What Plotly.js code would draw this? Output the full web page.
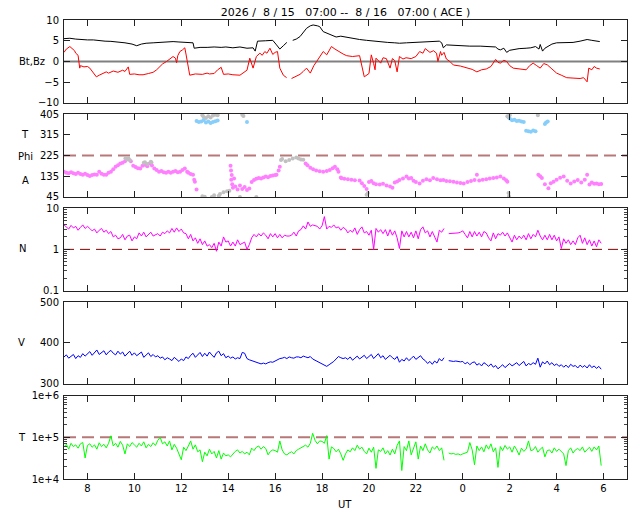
<!DOCTYPE html>
<html>
<head>
<meta charset="utf-8">
<script src="https://cdn.plot.ly/plotly-3.0.1.min.js"></script>
<style>
  body { margin: 0; background: white; }
  #chart { width: 640px; height: 512px; }
</style>
</head>
<body>
<div id="chart"></div>
<script>
// ACE solar wind, 2026/08/15 07:00 -- 08/16 07:00, hours counted from 0 UT on 8/15

const tickHours = [8, 10, 12, 14, 16, 18, 20, 22, 24, 26, 28, 30];
const tickText = ['8', '10', '12', '14', '16', '18', '20', '22', '0', '2', '4', '6'];

// Bt (black)
const btHr = [7.0, 7.25, 7.5, 7.7, 8.0, 8.25, 8.5, 8.75, 9.0, 9.3, 9.6, 9.9, 10.1, 10.3, 10.5, 10.8,
  11.1, 11.4, 11.65, 11.9, 12.2, 12.5, 12.55, 12.8, 13.1, 13.4, 13.7, 13.9, 14.2, 14.5, 14.8, 15.06,
  15.15, 15.25, 15.6, 15.9, 16.06, 16.2, 16.35, 16.5, 16.6, 16.75, 16.9, 17.06, 17.2, 17.34, 17.5,
  17.62, 17.8, 17.9, 18.05, 18.2, 18.33, 18.6, 18.8, 19.05, 19.3, 19.6, 19.9, 20.2, 20.46, 20.8,
  21.1, 21.3, 21.6, 21.9, 22.16, 22.5, 22.8, 23.0, 23.1, 23.17, 23.3, 23.6, 23.9, 24.3, 24.74, 25.1,
  25.4, 25.5, 25.6, 25.75, 25.87, 26.0, 26.15, 26.4, 26.7, 26.9, 27.1, 27.25, 27.3, 27.4, 27.5,
  27.65, 27.8, 28.0, 28.3, 28.7, 29.0, 29.3, 29.5, 29.84];
const btVal = [5.5, 5.6, 5.4, 5.25, 5.2, 5.2, 5.0, 4.9, 4.85, 4.7, 4.5, 4.2, 3.8, 4.2, 4.4, 4.5,
  4.6, 4.7, 4.8, 4.7, 4.6, 4.5, 3.2, 3.4, 3.4, 3.5, 3.4, 3.5, 3.3, 3.5, 3.2, 3.3,
  2.5, 4.9, 5.0, 5.1, 4.0, 3.0, 3.8, 4.6, null, 5.1, 5.4, 6.0, 7.0, 8.0, 8.6,
  8.8, 8.6, 8.4, 7.2, 6.8, 6.5, 5.9, 6.1, 5.8, 5.5, 5.3, 5.1, 4.9, 4.8, 4.6,
  4.5, 4.4, 4.5, 4.6, 4.6, 4.7, 4.8, 4.9, 4.5, 3.3, 4.0, 3.9, 3.7, 3.7, 3.7, 3.6,
  3.5, 3.0, 2.8, 3.2, 2.2, 2.7, 2.9, 3.1, 3.2, 3.3, 3.6, 3.0, 4.1, 2.5, 3.2,
  3.6, 4.2, 4.5, 4.6, 4.6, 4.9, 5.3, 5.1, 4.8];

// Bz (red)
const bzHr = [7.0, 7.1, 7.25, 7.38, 7.45, 7.5, 7.6, 7.67, 7.7, 7.85, 8.0, 8.1, 8.25, 8.38, 8.5, 8.67,
  8.8, 8.9, 9.1, 9.3, 9.5, 9.6, 9.74, 9.8, 10.0, 10.2, 10.37, 10.6, 10.8, 10.95, 11.08, 11.2, 11.37,
  11.5, 11.65, 11.75, 11.8, 11.85, 11.94, 12.05, 12.15, 12.2, 12.28, 12.36, 12.6, 12.9, 13.1, 13.2,
  13.4, 13.55, 13.7, 13.8, 14.0, 14.2, 14.5, 14.65, 14.8, 14.92, 15.0, 15.06, 15.2, 15.35, 15.45,
  15.56, 15.65, 15.78, 15.9, 16.0, 16.1, 16.15, 16.2, 16.35, 16.49, 16.6, 16.7, 16.85, 17.06, 17.2,
  17.34, 17.5, 17.65, 17.77, 17.9, 18.05, 18.2, 18.3, 18.4, 18.55, 18.76, 18.9, 19.05, 19.3, 19.6,
  19.7, 19.8, 20.0, 20.1, 20.2, 20.26, 20.3, 20.5, 20.6, 20.74, 20.9, 21.0, 21.1, 21.2, 21.3, 21.45,
  21.58, 21.8, 22.0, 22.16, 22.3, 22.4, 22.6, 22.75, 22.88, 22.94, 23.05, 23.1, 23.2, 23.3, 23.45,
  23.6, 23.9, 24.2, 24.4, 24.6, 24.8, 25.0, 25.2, 25.4, 25.5, 25.6, 25.75, 25.87, 26.0, 26.15, 26.4,
  26.7, 26.85, 27.0, 27.15, 27.3, 27.45, 27.6, 27.8, 28.0, 28.2, 28.43, 28.7, 29.0, 29.15, 29.3,
  29.37, 29.5, 29.6, 29.7, 29.84];
const bzVal = [2.2, 3.0, 3.6, 3.0, 2.6, 2.0, 1.5, -1.6, -1.0, -1.3, -1.2, -1.6, -2.6, -3.7, -3.3, -2.9,
  -2.5, -2.8, -2.3, -2.6, -2.1, -2.4, -1.3, -3.1, -3.0, -3.2, -3.2, -2.9, -2.6, -2.0, -1.25, -0.6, 0,
  0.6, 1.2, 0.8, -0.3, 1.4, 2.4, 2.8, 3.3, 1.8, -1.0, -3.3, -3.0, -3.1, -2.8, -3.0,
  -2.9, -2.0, -1.4, -3.1, -3.0, -3.2, -3.3, -2.8, -2.1, 0.8, -0.5, -1.6, 1.2, 2.0, 1.5,
  2.4, 2.0, 3.2, 1.7, 2.2, 2.4, 0.5, -1.6, -3.3, -3.9, null, -4.1, -3.6, -3.1, -2.4,
  -1.6, -2.8, -1.0, 0, 1.0, 2.4, 1.6, 2.8, 3.6, 3.0, 2.2, 1.8, 1.4, 1.2, 1.4,
  -0.8, -3.7, -2.9, 1.6, -0.5, -2.0, 0.8, -0.4, 0.9, 0.7, -1.6, 0.7, 0.2, -2.5, 1.2, 0.6,
  0.9, 0.7, 1.2, 2.4, 2.0, 3.1, 2.2, 2.6, 2.0, 0, 2.4, 1.5, 2.2, 0.6, 0.0,
  -0.85, -1.1, -1.5, -1.9, -2.5, -2.0, -1.8, -1.2, 0.5, -0.2, -0.4, 0.3, 0, -1.0, -1.6, -1.8,
  -2.0, -1.0, -0.4, -1.0, -1.6, -0.5, -0.8, -1.8, -2.8, -3.3, -3.9, -4.0, -4.1, -3.9, -4.9,
  -1.6, -2.0, -1.2, -1.6, -1.8];

// Phi angle, pink points
const phiHr = [7.0, 7.1, 7.2, 7.3, 7.4, 7.5, 7.6, 7.7, 7.8, 7.9, 8.0, 8.1, 8.2, 8.3, 8.4, 8.5, 8.6, 8.7,
  8.8, 8.9, 9.0, 9.1, 9.2, 9.3, 9.4, 9.5, 9.6, 9.85, 9.95, 10.05, 10.15, 10.25, 10.35, 10.45, 10.55,
  10.65, 10.75, 10.85, 10.95, 11.05, 11.15, 11.25, 11.35, 11.45, 11.55, 11.65, 11.75, 11.85, 11.95,
  12.05, 12.15, 12.25, 12.3, 12.4, 12.5, 12.55, 12.58, 12.65, 14.1, 14.12, 14.15, 14.13, 14.17, 14.2,
  14.25, 14.3, 14.4, 14.5, 14.6, 14.7, 14.8, 14.9, 15.0, 15.1, 15.2, 15.3, 15.4, 15.5, 15.6, 15.7,
  15.8, 15.9, 16.0, 16.06, 16.15, 16.2, 17.3, 17.38, 17.5, 17.62, 17.75, 17.9, 18.05, 18.2, 18.33,
  18.45, 18.55, 18.65, 18.7, 18.8, 18.83, 18.95, 19.1, 19.25, 19.4, 19.6, 19.7, 19.8, 19.9, 20.0,
  20.1, 20.2, 20.3, 20.46, 20.6, 20.75, 20.9, 21.0, 21.1, 21.2, 21.3, 21.45, 21.6, 21.7, 21.8, 21.9,
  22.0, 22.16, 22.3, 22.45, 22.6, 22.74, 22.9, 23.05, 23.17, 23.3, 23.45, 23.6, 23.75, 23.9, 24.04,
  24.2, 24.35, 24.5, 24.6, 24.7, 24.85, 25.0, 25.15, 25.3, 25.45, 25.6, 25.75, 25.85, 25.9, 27.22,
  27.3, 27.37, 27.5, 27.65, 27.75, 27.87, 28.0, 28.15, 28.3, 28.45, 28.6, 28.75, 28.9, 29.05, 29.2,
  29.3, 29.4, 29.5, 29.6, 29.7, 29.8, 29.9];
const phiVal = [155, 150, 148, 152, 148, 145, 150, 145, 142, 146, 140, 136, 140, 143, 141, 155, 146, 141,
  141, 150, 155, 165, 176, 183, 190, 194, 200, 200, 180, 175, 170, 169, 180, 185, 178,
  190, 182, 169, 162, 155, 158, 152, 150, 154, 150, 155, 158, 152, 155,
  162, 169, 155, 150, 145, 141, 120, 111, 78, 180, 160, 140, 120, 100, 85,
  125, 90, 78, 95, 80, 88, 75, 82, 110, 119, 124, 127, 125, 130, 134, 131,
  136, 138, 140, 141, 160, 176, 190, 183, 172, 165, 160, 157, 155, 158, 162,
  170, 176, 165, 155, 130, 126, 124, 122, 120, 118, 116, 105, 93, 80, 110,
  114, 105, 100, 99, 102, 95, 90, 85, 108, 112, 119, 125, 134, 125, 127, 115,
  110, 104, 115, 122, 118, 127, 122, 118, 119, 114, 113, 111, 108, 106, 104,
  110, 114, 119, 141, 116, 120, 122, 125, 127, 130, 134, 125, 118, 111, 141,
  135, 127, 100, 83, 105, 111, 120, 128, 134, 115, 104, 112, 119, 108, 120,
  141, 99, 108, 102, 104, 100, 101];

// Phi angle, gray points
const phiGrayHr = [9.62, 9.7, 9.75, 9.8, 10.4, 10.45, 10.55, 10.7, 10.73, 12.9, 12.95, 13.05, 13.15,
  13.25, 13.35, 13.45, 13.55, 14.6, 14.65, 12.9, 13.0, 13.3, 13.4, 13.6, 13.65, 13.8, 13.95, 14.05,
  14.5, 15.2, 16.25, 16.3, 16.45, 16.6, 16.75, 16.9, 17.0, 17.1, 17.2, 19.95, 19.9, 25.9, 25.95,
  26.0, 25.95, 25.97, 27.2];
const phiGrayVal = [213, 208, 212, 205, 194, 196, 188, 198, 195, 400, 392, 388, 395,
  390, 398, 402, 400, 402, 396, 48, 46, 45, 52, 50, 58, 66, 70, 72,
  45, 45, 205, 210, 200, 205, 212, 216, 212, 208, 206, 62, 55, 395, 390,
  400, 62, 48, 400];

// Phi angle, light blue points
const phiBlueHr = [12.65, 12.75, 12.85, 12.95, 13.05, 13.15, 13.25, 13.35, 13.45, 13.55, 14.8,
  26.0, 26.1, 26.2, 26.3, 26.4, 26.5, 26.6, 26.7, 26.8, 26.9, 27.0, 27.1, 27.5, 27.55, 27.62];
const phiBlueVal = [375, 370, 372, 378, 368, 372, 366, 370, 374, 377, 370,
  385, 378, 380, 375, 376, 372, 370, 332, 330, 328, 333, 330, 362, 368, 372];

// N, V, T sampled every 0.1 h from 7.0 to 29.9 (one row = one hour)
const density = [
  3.9, 3.4, 3.1, 3.8, 3.3, 3.6, 2.9, 3.4, 3.9, 3.2,
  3.6, 3.2, 2.8, 3.1, 2.5, 2.9, 3.2, 2.6, 2.9, 2.4,
  2.7, 2.0, 2.2, 1.8, 1.9, 2.3, 1.7, 2.1, 2.2, 1.6,
  2.0, 1.8, 2.5, 2.1, 2.6, 2.0, 2.3, 2.6, 2.1, 2.3,
  2.4, 2.1, 2.6, 2.4, 2.8, 2.5, 3.2, 2.6, 3.3, 2.7,
  3.1, 2.5, 2.4, 1.8, 2.3, 1.6, 1.9, 1.4, 1.8, 1.3,
  1.6, 1.2, 1.3, 1.1, 1.4, 0.9, 1.5, 1.2, 2.0, 1.5,
  1.6, 1.2, 1.5, 1.2, 1.7, 1.3, 1.4, 1.5, 1.0, 1.3,
  1.9, 2.3, 2.0, 2.4, 2.1, 2.5, 2.2, 1.8, 2.4, 2.0,
  2.4, 1.9, 2.3, 1.9, 2.2, 2.1, 2.1, 2.2, 2.6, 2.1,
  2.8, 3.0, 3.7, 3.1, 4.6, 3.6, 3.9, 3.7, 3.6, 3.1,
  3.7, 6.2, 3.1, 3.6, 3.4, 3.9, 3.3, 3.5, 2.9, 3.4,
  3.1, 2.5, 2.9, 2.6, 3.3, 2.3, 3.0, 3.5, 2.5, 2.7,
  2.2, 2.9, 1.0, 3.2, 2.6, 3.0, 2.4, 3.0, 2.1, 3.0,
  2.2, 2.8, 1.9, 1.05, 2.8, 2.0, 2.7, 2.0, 2.6, 1.9,
  2.8, 1.8, 3.0, 3.5, 2.5, 2.8, 2.0, 2.7, 2.1, 1.5,
  2.9, 2.6, 3.2, null, 2.4, 2.4, 2.5, 2.4, 2.5, 2.6,
  2.8, 2.3, 1.9, 2.7, 2.0, 2.7, 2.1, 2.6, 2.0, 2.7,
  2.5, 1.9, 1.6, 2.5, 1.8, 2.4, 2.2, 2.6, 2.1, 2.5,
  2.0, 1.5, 2.2, 1.7, 2.1, 1.8, 2.2, 1.7, 2.4, 1.8,
  2.3, 2.0, 2.9, 2.1, 1.7, 2.2, 1.7, 2.3, 1.7, 2.2,
  1.6, 2.0, 1.05, 1.8, 1.4, 1.7, 1.3, 1.6, 1.3, 1.9,
  2.2, 1.4, 1.9, 1.3, 1.7, 1.2, 1.6, 1.15, 1.7, 1.4];

const speed = [
  366, 371, 363, 368, 372, 362, 369, 365, 374, 368,
  373, 379, 370, 376, 383, 372, 377, 381, 371, 378,
  382, 375, 371, 380, 373, 378, 368, 375, 380, 370,
  376, 369, 373, 378, 365, 371, 376, 367, 372, 366,
  369, 363, 366, 359, 364, 361, 357, 365, 359, 355,
  361, 357, 366, 362, 370, 375, 365, 372, 377, 367,
  375, 368, 378, 371, 365, 376, 380, 369, 374, 364,
  368, 363, 366, 361, 364, 362, 377, 375, 362, 359,
  357, 354, 352, 350, 349, 351, 349, 352, 354, 353,
  356, 361, 362, 363, 365, 362, 366, 364, 363, 366,
  366, 364, 368, 366, 364, 367, 361, 358, 355, 352,
  348, 345, 343, 347, 350, 355, 361, 367, 364, 362,
  364, 360, 366, 358, 363, 368, 361, 366, 370, 362,
  367, 372, 362, 368, 374, 364, 369, 360, 366, 370,
  364, 360, 367, 353, 360, 356, 364, 357, 362, 368,
  360, 365, 369, 361, 357, 350, 355, 348, 356, 351,
  362, 356, 364, null, 357, 356, 355, 356, 355, 354,
  355, 349, 353, 347, 352, 354, 346, 350, 344, 352,
  348, 343, 349, 341, 345, 337, 342, 347, 340, 346,
  350, 344, 347, 352, 345, 349, 355, 344, 350, 347,
  352, 348, 363, 341, 354, 349, 356, 347, 352, 345,
  349, 343, 347, 341, 346, 340, 348, 343, 345, 339,
  346, 341, 345, 339, 347, 340, 344, 338, 343, 336];

const temperature = [
  59000, 68000, 52000, 72000, 60000, 66000, 55000, 70000, 75000, 32000,
  64000, 70000, 58000, 66000, 52000, 74000, 60000, 68000, 56000, 72000,
  109000, 62000, 72000, 58000, 80000, 65000, 40000, 70000, 60000, 75000,
  66000, 58000, 72000, 62000, 78000, 56000, 68000, 60000, 74000, 64000,
  85000, 100000, 70000, 78000, 62000, 82000, 50000, 68000, 55000, 40000,
  29000, 58000, 48000, 62000, 82000, 52000, 66000, 45000, 50000, 26000,
  44000, 36000, 52000, 40000, 46000, 32000, 48000, 30000, 42000, 36000,
  38000, 34000, 40000, 46000, 50000, 42000, 46000, 40000, 44000, 38000,
  55000, 48000, 58000, 62000, 52000, 60000, 54000, 38000, 46000, 50000,
  48000, 44000, 82000, 50000, 40000, 38000, 42000, 45000, 40000, 48000,
  52000, 56000, 60000, 65000, 58000, 72000, 125000, 85000, 70000, 82000,
  80000, 72000, 110000, 30000, 59000, 54000, 45000, 52000, 40000, 28000,
  40000, 50000, 45000, 56000, 48000, 65000, 52000, 58000, 46000, 40000,
  55000, 44000, 58000, 18000, 50000, 46000, 56000, 40000, 48000, 37600,
  52000, 40000, 64000, 82000, 16000, 60000, 48000, 82000, 38000, 56000,
  78000, 30000, 62000, 48000, 70000, 50000, 42000, 59000, 52000, 62000,
  48000, 56000, 28000, null, 42000, 40000, 41000, 39000, 40000, 38000,
  40000, 42000, 44000, 75000, 50000, 22000, 62000, 48000, 59000, 45000,
  66000, 52000, 70000, 45000, 56000, 19000, 60000, 48000, 64000, 52000,
  59000, 44000, 62000, 50000, 37600, 55000, 46000, 52000, 82000, 48000,
  50000, 60000, 44000, 52000, 58000, 34000, 48000, 50000, 42000, 56000,
  46000, 52000, 45000, 40000, 21000, 48000, 56000, 42000, 50000, 54000,
  48000, 59000, 44000, 52000, 58000, 46000, 59000, 50000, 62000, 21000];

const gridHr = [];
for (let i = 0; i < density.length; i++) {
  gridHr.push(Math.round((7 + i * 0.1) * 10) / 10);
}

const minorLog = [];
[-1, 0, 4, 5].forEach(p => {
  for (let k = 2; k <= 9; k++) minorLog.push(k * Math.pow(10, p));
});

const fnt = {family: 'DejaVu Sans, sans-serif', size: 10, color: 'black'};

function xax(anchor, labels) {
  return {
    range: [7, 31],
    anchor: anchor,
    matches: anchor === 'y' ? undefined : 'x',
    tickmode: 'array',
    tickvals: tickHours,
    ticktext: tickText,
    showticklabels: labels,
    ticks: 'inside',
    ticklen: 6,
    tickcolor: '#222',
    mirror: 'ticks',
    showline: true,
    linecolor: '#222',
    linewidth: 1,
    showgrid: false,
    zeroline: false,
    tickfont: fnt
  };
}

function yax(dom, anchor, extra) {
  return Object.assign({
    domain: dom,
    anchor: anchor,
    ticks: 'inside',
    ticklen: 6,
    tickcolor: '#222',
    mirror: 'ticks',
    showline: true,
    linecolor: '#222',
    linewidth: 1,
    showgrid: false,
    zeroline: false,
    tickfont: fnt,
    ticklabelstandoff: 2,
    fixedrange: true
  }, extra);
}

const data = [
  {x: btHr, y: btVal, type: 'scatter', mode: 'lines', line: {color: 'black', width: 1}, xaxis: 'x5', yaxis: 'y5'},
  {x: bzHr, y: bzVal, type: 'scatter', mode: 'lines', line: {color: '#ff0000', width: 1}, xaxis: 'x5', yaxis: 'y5'},
  {x: phiHr, y: phiVal, type: 'scatter', mode: 'markers', marker: {color: '#ff80ff', size: 4}, xaxis: 'x4', yaxis: 'y4'},
  {x: phiGrayHr, y: phiGrayVal, type: 'scatter', mode: 'markers', marker: {color: '#c0c0c0', size: 4}, xaxis: 'x4', yaxis: 'y4'},
  {x: phiBlueHr, y: phiBlueVal, type: 'scatter', mode: 'markers', marker: {color: '#87cefa', size: 4}, xaxis: 'x4', yaxis: 'y4'},
  {x: gridHr, y: density, type: 'scatter', mode: 'lines', line: {color: '#ff00ff', width: 1}, xaxis: 'x3', yaxis: 'y3'},
  {x: gridHr, y: speed, type: 'scatter', mode: 'lines', line: {color: '#0000ff', width: 1}, xaxis: 'x2', yaxis: 'y2'},
  {x: gridHr, y: temperature, type: 'scatter', mode: 'lines', line: {color: '#00ff00', width: 1}, xaxis: 'x', yaxis: 'y'}
];

const layout = {
  width: 640,
  height: 512,
  margin: {l: 64, r: 13, t: 20, b: 33},
  paper_bgcolor: 'white',
  plot_bgcolor: 'white',
  showlegend: false,
  font: fnt,
  title: {
    text: '2026 /\u00a0\u00a08 / 15\u00a0\u00a0\u00a007:00 --\u00a0\u00a08 / 16\u00a0\u00a0\u00a007:00 ( ACE )',
    x: 0.5, xref: 'paper', xanchor: 'center',
    y: 0.977, yref: 'container', yanchor: 'middle',
    font: {family: 'DejaVu Sans, sans-serif', size: 11, color: 'black'}
  },
  xaxis: xax('y', true),
  xaxis2: xax('y2', false),
  xaxis3: xax('y3', false),
  xaxis4: xax('y4', false),
  xaxis5: xax('y5', false),
  yaxis: yax([0, 0.1815], 'x', {type: 'log', range: [4, 6], tickmode: 'array',
    tickvals: [1e4, 1e5, 1e6], ticktext: ['1e+4', '1e+5', '1e+6'],
    minor: {tickmode: 'array', tickvals: minorLog, ticks: 'inside', ticklen: 3, tickcolor: '#444'}}),
  yaxis2: yax([0.207, 0.3856], 'x2', {range: [300, 500], tickmode: 'array', tickvals: [300, 400, 500]}),
  yaxis3: yax([0.4102, 0.5904], 'x3', {type: 'log', range: [-1, 1], tickmode: 'array',
    tickvals: [0.1, 1, 10], ticktext: ['0.1', '1', '10'],
    minor: {tickmode: 'array', tickvals: minorLog, ticks: 'inside', ticklen: 3, tickcolor: '#444'}}),
  yaxis4: yax([0.6144, 0.7952], 'x4', {range: [45, 405], tickmode: 'array', tickvals: [45, 135, 225, 315, 405]}),
  yaxis5: yax([0.8192, 1.0], 'x5', {range: [-10, 10], tickmode: 'array', tickvals: [-10, -5, 0, 5, 10]}),
  shapes: [
    {type: 'line', xref: 'x5 domain', yref: 'y5', x0: 0, x1: 1, y0: 0, y1: 0, layer: 'below',
      line: {color: '#808080', width: 2}},
    {type: 'line', xref: 'x4 domain', yref: 'y4', x0: 0, x1: 1, y0: 225, y1: 225, layer: 'below',
      line: {color: '#b87878', width: 2, dash: '12px,6px'}},
    {type: 'line', xref: 'x3 domain', yref: 'y3', x0: 0, x1: 1, y0: 1, y1: 1, layer: 'below',
      line: {color: '#800000', width: 1, dash: '10px,6px'}},
    {type: 'line', xref: 'x domain', yref: 'y', x0: 0, x1: 1, y0: 1e5, y1: 1e5, layer: 'below',
      line: {color: '#b87878', width: 2, dash: '12px,6px'}}
  ],
  annotations: [
    {text: 'Bt,Bz', x: -0.057, y: 0.9085},
    {text: 'T', x: -0.069, y: 0.7495},
    {text: 'Phi', x: -0.068, y: 0.7037},
    {text: 'A', x: -0.069, y: 0.6514},
    {text: 'N', x: -0.073, y: 0.5011},
    {text: 'V', x: -0.075, y: 0.2963},
    {text: 'T', x: -0.075, y: 0.0915},
    {text: 'UT', x: 0.499, y: -0.0566}
  ].map(a => Object.assign({xref: 'paper', yref: 'paper', showarrow: false,
    xanchor: 'center', yanchor: 'middle', font: fnt}, a))
};

Plotly.newPlot('chart', data, layout, {staticPlot: true});
</script>
</body>
</html>
